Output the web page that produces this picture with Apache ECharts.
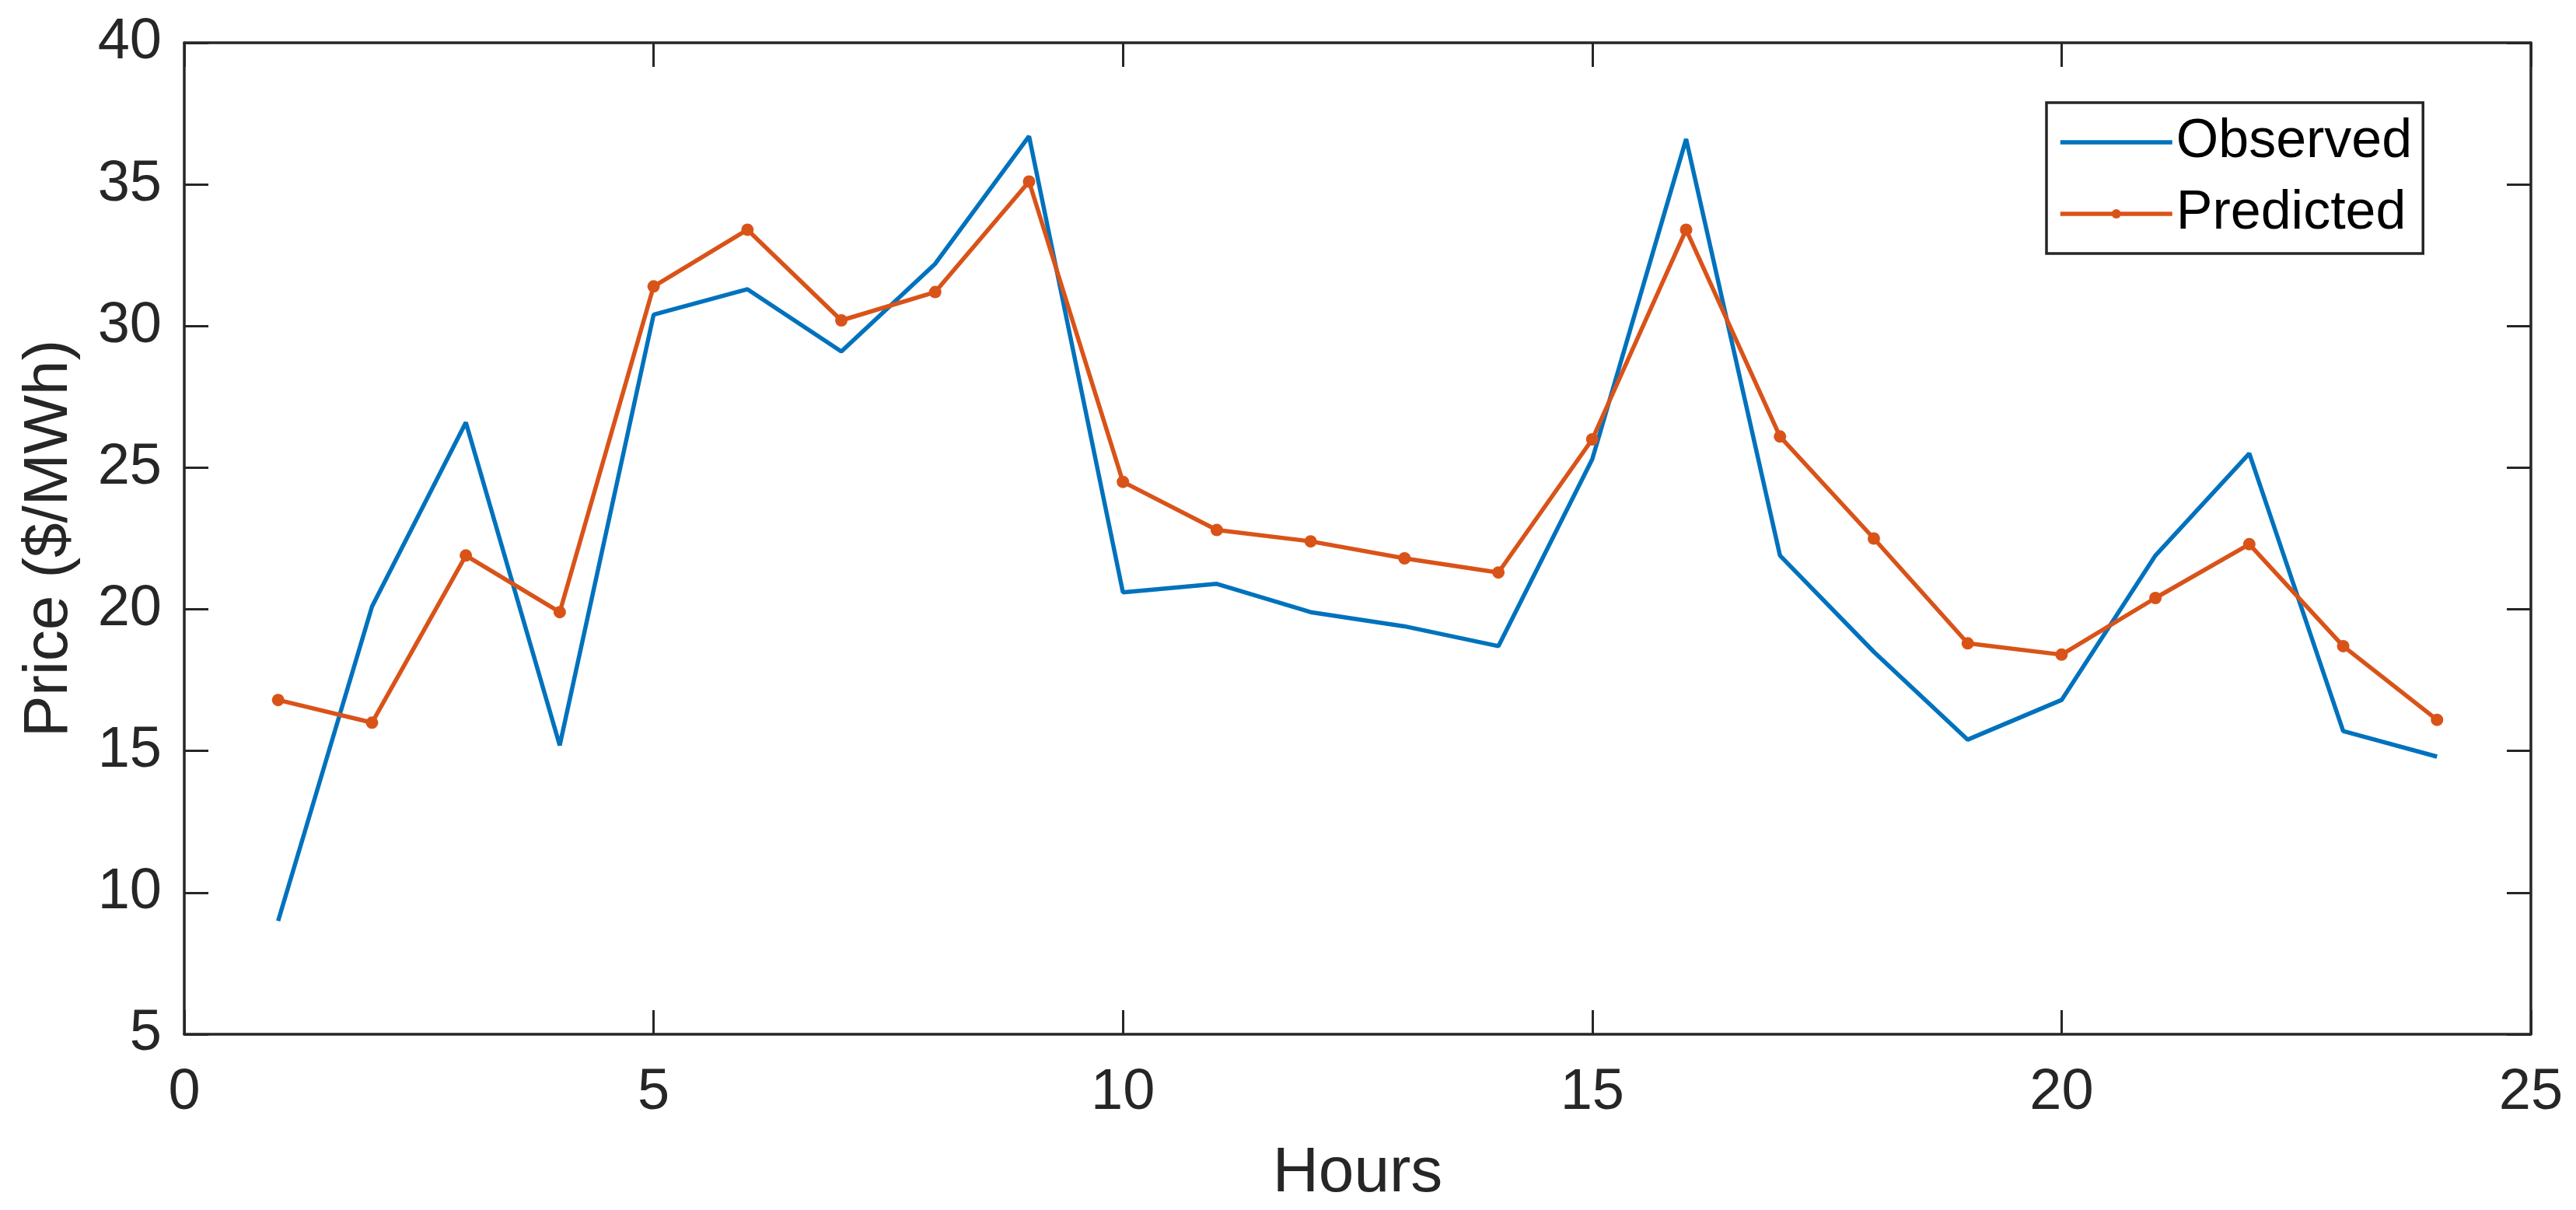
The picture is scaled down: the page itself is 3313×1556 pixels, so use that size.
<!DOCTYPE html>
<html>
<head>
<meta charset="utf-8">
<script src="https://cdn.jsdelivr.net/npm/echarts@6/dist/echarts.min.js"></script>
<style>
  html, body { margin: 0; padding: 0; background: #ffffff; }
  #chart { width: 3313px; height: 1556px; }
</style>
</head>
<body>
<div id="chart"></div>
<script>
const hours = [1,2,3,4,5,6,7,8,9,10,11,12,13,14,15,16,17,18,19,20,21,22,23,24];
const observed = [9.0,20.1,26.6,15.2,30.4,31.3,29.1,32.2,36.7,20.6,20.9,19.9,19.4,18.7,25.3,36.6,21.9,18.5,15.4,16.8,21.9,25.5,15.7,14.8];
const predicted = [16.8,16.0,21.9,19.9,31.4,33.4,30.2,31.2,35.1,24.5,22.8,22.4,21.8,21.3,26.0,33.4,26.1,22.5,18.8,18.4,20.4,22.3,18.7,16.1];
const seriesNames = ['Observed', 'Predicted'];
const xTitle = 'Hours';
const yTitle = 'Price ($/MWh)';

const FONT = '"Liberation Sans", Arial, Helvetica, sans-serif';
const AX = '#262626';
const BLUE = '#0072BD';
const ORANGE = '#D95319';
const LW = 5.5;

const chart = echarts.init(document.getElementById('chart'), null, { renderer: 'canvas' });

const axisCommon = {
  type: 'value',
  splitLine: { show: false },
  axisLine: { show: true, onZero: false, lineStyle: { color: AX, width: 3.5 } },
  axisTick: { show: true, inside: true, length: 31, lineStyle: { color: AX, width: 3 } }
};

const option = {
  backgroundColor: '#ffffff',
  animation: false,
  grid: { left: 237, top: 55, right: 58, bottom: 226, containLabel: false },
  xAxis: [
    Object.assign({}, axisCommon, {
      min: 0, max: 25, interval: 5, position: 'bottom',
      name: xTitle, nameLocation: 'middle', nameGap: 138,
      nameTextStyle: { fontFamily: FONT, fontSize: 82, color: AX },
      axisLabel: { show: true, margin: 39, fontFamily: FONT, fontSize: 74, color: AX }
    }),
    Object.assign({}, axisCommon, {
      min: 0, max: 25, interval: 5, position: 'top',
      axisLabel: { show: false }
    })
  ],
  yAxis: [
    Object.assign({}, axisCommon, {
      min: 5, max: 40, interval: 5, position: 'left',
      name: yTitle, nameLocation: 'middle', nameGap: 133, nameRotate: 90,
      nameTextStyle: { fontFamily: FONT, fontSize: 80, color: AX },
      axisLabel: { show: true, margin: 29, fontFamily: FONT, fontSize: 74, color: AX }
    }),
    Object.assign({}, axisCommon, {
      min: 5, max: 40, interval: 5, position: 'right',
      axisLabel: { show: false }
    })
  ],
  legend: {
    show: true,
    left: 2632, top: 132,
    orient: 'vertical',
    data: [
      { name: seriesNames[0], itemStyle: { color: 'rgba(0,0,0,0)', borderWidth: 0 }, lineStyle: { color: BLUE, width: LW } },
      { name: seriesNames[1], lineStyle: { color: ORANGE, width: LW } }
    ],
    backgroundColor: '#ffffff',
    borderColor: AX, borderWidth: 3.5, borderRadius: 0,
    padding: [11, 14, 11, 15],
    itemWidth: 144, itemHeight: 15, itemGap: 12,
    textStyle: { fontFamily: FONT, fontSize: 70, color: '#000000', lineHeight: 80 }
  },
  series: [
    {
      name: seriesNames[0], type: 'line',
      xAxisIndex: 0, yAxisIndex: 0,
      data: hours.map((h, i) => [h, observed[i]]),
      showSymbol: false, symbol: 'none',
      lineStyle: { color: BLUE, width: LW },
      itemStyle: { color: BLUE }
    },
    {
      name: seriesNames[1], type: 'line',
      xAxisIndex: 0, yAxisIndex: 0,
      data: hours.map((h, i) => [h, predicted[i]]),
      symbol: 'circle', symbolSize: 16, showSymbol: true,
      lineStyle: { color: ORANGE, width: LW },
      itemStyle: { color: ORANGE }
    }
  ]
};
chart.setOption(option);
</script>
</body>
</html>
